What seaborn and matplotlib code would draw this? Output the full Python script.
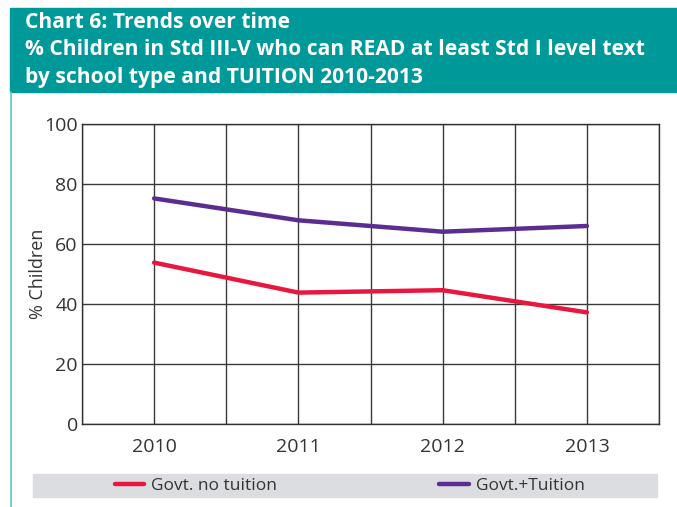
import matplotlib
matplotlib.use('Agg')
import matplotlib.pyplot as plt
import seaborn as sns
import pandas as pd
from matplotlib.patches import Rectangle

# data
years = ['2010', '2011', '2012', '2013']
govt_no_tuition = [53.8, 43.8, 44.6, 37.2]
govt_tuition = [75.2, 67.9, 64.1, 66.0]
series_names = ['Govt. no tuition', 'Govt.+Tuition']
colors = ['#e8173f', '#5b2d91']

df = pd.DataFrame({
    'pos': list(range(len(years))) * 2,
    'value': govt_no_tuition + govt_tuition,
    'series': [series_names[0]] * len(years) + [series_names[1]] * len(years),
})

sns.set_style('white')
plt.rcParams['font.family'] = ['Open Sans', 'DejaVu Sans']

W, H = 677, 507
fig = plt.figure(figsize=(W / 100, H / 100), dpi=100)

# title bar
teal = '#00999a'
fig.patches.append(Rectangle((10 / W, 1 - 92 / H), 1 - 10 / W, 84 / H,
                             transform=fig.transFigure, color=teal, zorder=0))
fig.add_artist(plt.Line2D([10.5 / W, 10.5 / W], [0, 1 - 92 / H],
                          transform=fig.transFigure, color='#5cc8c8', lw=1.2))
title_lines = ['Chart 6: Trends over time',
               '% Children in Std III-V who can READ at least Std I level text',
               'by school type and TUITION 2010-2013']
for i, t in enumerate(title_lines):
    fig.text(25 / W, 1 - (22 + i * 27.5) / H, t, color='white', fontsize=15.1,
             fontweight='bold', va='center', ha='left')

ax = fig.add_axes([82 / W, 1 - 424 / H, (659 - 82) / W, 300 / H])
sns.lineplot(data=df, x='pos', y='value', hue='series', palette=colors,
             linewidth=3.2, ax=ax, legend=False)

ax.set_xlim(-0.5, 3.5)
ax.set_ylim(0, 100)
ax.set_yticks([0, 20, 40, 60, 80, 100])
ax.set_xticks([-0.5, 0, 0.5, 1, 1.5, 2, 2.5, 3, 3.5])
ax.set_xticklabels(['', '2010', '', '2011', '', '2012', '', '2013', ''])
ax.grid(True, color='#3a3a3a', lw=1.0)
ax.set_axisbelow(True)
for s in ax.spines.values():
    s.set_color('#333333')
    s.set_linewidth(1.0)
ax.tick_params(axis='both', length=0, labelsize=14, colors='#333333', pad=10)
ax.tick_params(axis='y', pad=3)
ax.set_xlabel('')
ax.set_ylabel('% Children', fontsize=13, color='#333333')
ax.yaxis.set_label_coords(-0.060, 0.5)

# legend box
fig.patches.append(Rectangle((33 / W, 1 - 497 / H), (657 - 33) / W, 23 / H,
                             transform=fig.transFigure, color='#dcdde0', zorder=0))
handles = [plt.Line2D([], [], color=c, lw=3.2) for c in colors]
fig.legend(handles, series_names, loc='center left',
           bbox_to_anchor=(99 / W, 1 - 485.5 / H), ncol=2, frameon=False,
           fontsize=12.5, handlelength=1.7, handletextpad=0.4,
           columnspacing=9.35, labelcolor='#333333')

fig.savefig('out.png', dpi=100)
